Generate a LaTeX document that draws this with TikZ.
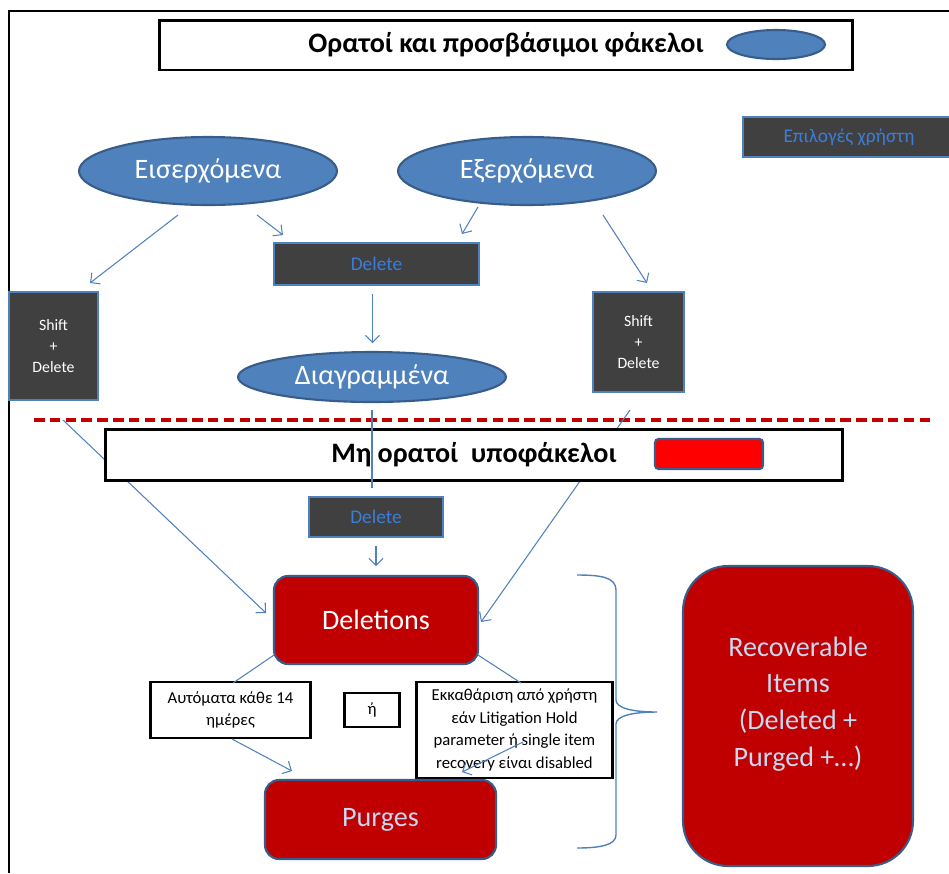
\documentclass[tikz,border=0pt]{standalone}
\usepackage{fontspec}
\setmainfont{Carlito}
\usetikzlibrary{arrows.meta,shapes.geometric}
\definecolor{fold}{HTML}{4F81BD}
\definecolor{folde}{HTML}{385D8A}
\definecolor{dark}{HTML}{404040}
\definecolor{wine}{HTML}{C00000}
\definecolor{keyb}{HTML}{3C7DD9}
\definecolor{pale}{HTML}{C6D9F1}

\begin{document}
\begin{tikzpicture}[x=0.02cm,y=-0.02cm,
  folder/.style={ellipse,draw=folde,fill=fold,line width=1.2pt,inner sep=0pt,text=white,font=\fontsize{16}{19}\selectfont},
  keybox/.style={rectangle,draw=fold,fill=dark,line width=1.2pt,text=keyb,font=\fontsize{11}{13}\selectfont},
  bin/.style={rectangle,rounded corners=0.28cm,draw=folde,fill=wine,line width=1.2pt,font=\fontsize{16}{21}\selectfont},
  notebox/.style={rectangle,draw=black,fill=white,line width=1.5pt,align=center,font=\fontsize{9.5}{13}\selectfont},
  headbox/.style={rectangle,draw=black,fill=white,line width=1.7pt,font=\bfseries\fontsize{16}{19}\selectfont},
  link/.style={draw=fold,line width=0.6pt},
  arr/.style={link,-{Straight Barb[length=4pt,width=8pt]}}]
\useasboundingbox (0,0) rectangle (949,873);
\draw[line width=1.1pt] (9,873) -- (9,11) -- (949,11);
\node[headbox,minimum width=13.88cm,minimum height=1cm] (vis) at (506,45) {Ορατοί και προσβάσιμοι φάκελοι};
\node[folder,minimum width=1.96cm,minimum height=0.58cm] (visk) at (776,44.5) {};
\node[keybox,minimum width=4.24cm,minimum height=0.8cm] (opts) at (849,137) {Επιλογές χρήστη};
\node[folder,minimum width=5.16cm,minimum height=1.36cm] (inb) at (208,171) {Εισερχόμενα};
\node[folder,minimum width=5.16cm,minimum height=1.36cm] (outb) at (527,171) {Εξερχόμενα};
\node[keybox,minimum width=4.1cm,minimum height=0.84cm] (del) at (376.5,264) {Delete};
\node[keybox,minimum width=1.78cm,minimum height=2.16cm,align=center,text=white,font=\fontsize{9}{12}\selectfont] (shl) at (53.5,346) {Shift\\+\\Delete};
\node[keybox,minimum width=1.82cm,minimum height=2cm,align=center,text=white,font=\fontsize{9}{12}\selectfont] (shr) at (638.5,342) {Shift\\+\\Delete};
\node[folder,minimum width=5.36cm,minimum height=1cm] (trash) at (372,377) {Διαγραμμένα};
\coordinate (i1) at (178,215);
\coordinate (i2) at (90,283);
\coordinate (i3) at (257,215);
\coordinate (i4) at (283,235);
\coordinate (o1) at (478,207);
\coordinate (o2) at (462,234);
\coordinate (o3) at (603,215);
\coordinate (o4) at (647,283);
\draw[arr] (i1) -- (i2);
\draw[arr] (i3) -- (i4);
\draw[arr] (o1) -- (o2);
\draw[arr] (o3) -- (o4);
\draw[arr] (del.south) ++(-4,8) coordinate (d1) -- ++(0,49);
\draw[wine,line width=1.8pt,dash pattern=on 6pt off 3pt] (34,420) -- (930,420);
\coordinate (s1) at (63,420);
\coordinate (s2) at (266,613);
\coordinate (s3) at (630,410);
\coordinate (s4) at (481,622);
\draw[arr] (s1) -- (s2);
\draw[arr] (s3) -- (s4);
\node[headbox,minimum width=14.76cm,minimum height=1.02cm] (hid) at (474,454.5) {Μη ορατοί\ \ υποφάκελοι};
\node[rectangle,rounded corners=2pt,draw=folde,fill=red,line width=1.2pt,minimum width=2.16cm,minimum height=0.6cm] (hidk) at (709,454) {};
\coordinate (t1) at (372,410);
\coordinate (t2) at (372,488);
\draw[link] (t1) -- (t2);
\node[keybox,minimum width=2.68cm,minimum height=0.8cm] (del2) at (376,517) {Delete};
\node[bin,text=white,minimum width=4.08cm,minimum height=1.76cm] (dels) at (376,620) {Deletions};
\draw[arr] (del2.south) ++(0,8) -- ++(0,20);
\node[notebox,minimum width=3.2cm,minimum height=1.12cm] (auto) at (230.5,710) {Αυτόματα κάθε 14\\ημέρες};
\node[notebox,minimum width=1.1cm,minimum height=0.68cm] (or) at (372,710) {ή};
\node[notebox,minimum width=3.92cm,minimum height=1.92cm] (user) at (514.5,730) {Εκκαθάριση από χρήστη\\εάν Litigation Hold\\parameter ή single item\\recovery είναι disabled};
\node[bin,text=pale,minimum width=4.62cm,minimum height=1.58cm] (purg) at (380.5,819.5) {Purges};
\coordinate (p1) at (274,655);
\coordinate (p2) at (233,683);
\coordinate (p3) at (478,655);
\coordinate (p4) at (521,683);
\draw[link] (p1) -- (p2);
\draw[link] (p3) -- (p4);
\coordinate (p5) at (232,739);
\coordinate (p6) at (292,771);
\coordinate (p7) at (523,742);
\coordinate (p8) at (462,772);
\draw[arr] (p5) -- (p6);
\draw[arr] (p7) -- (p8);
\draw[link,line width=0.8pt] (577,575) .. controls (600,575) and (616,577) .. (616,590) -- (616,700) .. controls (616,708) and (632,712) .. (657,712) .. controls (632,712) and (616,716) .. (616,724) -- (616,835) .. controls (616,845) and (600,848) .. (577,848);
\node[bin,rounded corners=0.9cm,minimum width=4.6cm,minimum height=6cm] (rec) at (798,716) {};
\node[align=center,text=pale,font=\fontsize{16}{21}\selectfont] (rect) at (798,704) {Recoverable\\Items\\(Deleted +\\Purged +…)};
\end{tikzpicture}
\end{document}
